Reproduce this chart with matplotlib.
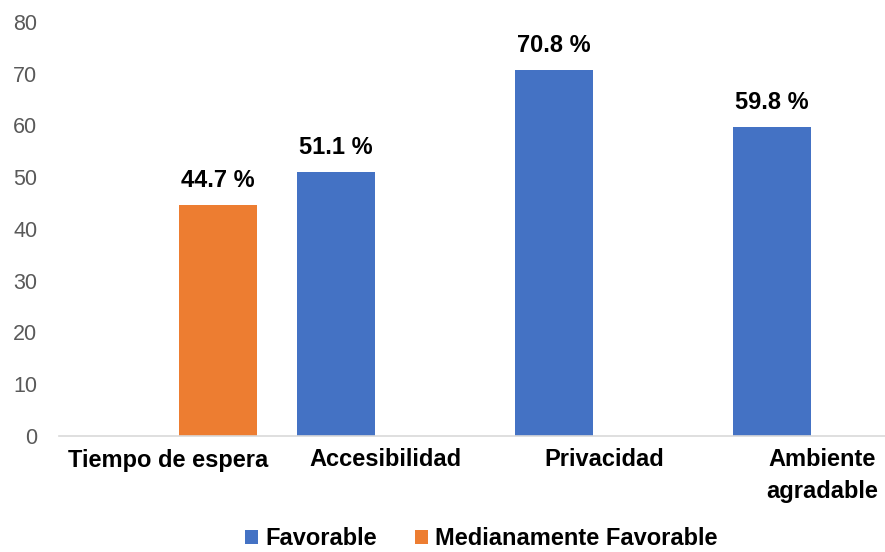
import matplotlib.pyplot as plt
import numpy as np

categories = ["Tiempo de espera", "Accesibilidad", "Privacidad", "Ambiente\nagradable"]
favorable = [np.nan, 51.1, 70.8, 59.8]
medianamente = [44.7, np.nan, np.nan, np.nan]

plt.rcParams["font.family"] = ["Liberation Sans", "DejaVu Sans"]

fig = plt.figure(figsize=(8.85, 5.52), dpi=100)
ax = fig.add_axes([59 / 885, 116 / 552, 826 / 885, 414 / 552])

x = np.arange(len(categories))
width = 0.359
offset = 0.23

b1 = ax.bar(x - offset, favorable, width, color="#4472C4", label="Favorable")
b2 = ax.bar(x + offset, medianamente, width, color="#ED7D31",
            label="Medianamente Favorable")

for bars, vals in ((b1, favorable), (b2, medianamente)):
    for rect, v in zip(bars, vals):
        if np.isnan(v):
            continue
        ax.text(rect.get_x() + rect.get_width() / 2, v + 2.4, f"{v:.1f} %",
                ha="center", va="bottom", fontsize=17, fontweight="bold",
                color="#000000")

ax.set_xlim(-0.5, 3.29)
ax.set_ylim(0, 80)
ax.set_yticks(range(0, 81, 10))
ax.set_xticks(x)
ax.set_xticklabels(categories, fontsize=17, fontweight="bold", linespacing=1.45)

for side in ("top", "right", "left"):
    ax.spines[side].set_visible(False)
ax.spines["bottom"].set_color("#D9D9D9")
ax.spines["bottom"].set_linewidth(1.2)
ax.tick_params(axis="x", length=0, pad=9)
ax.tick_params(axis="y", length=0, labelsize=15.5, labelcolor="#595959", pad=15.5)

fig.legend(handles=[b1, b2], loc="center", bbox_to_anchor=(0.544, 0.024),
           ncol=2, frameon=False, handlelength=0.55, handleheight=0.55,
           handletextpad=0.3, columnspacing=1.6, borderpad=0.1,
           prop={"size": 17, "weight": "bold"})

fig.savefig("out.png", dpi=100)
